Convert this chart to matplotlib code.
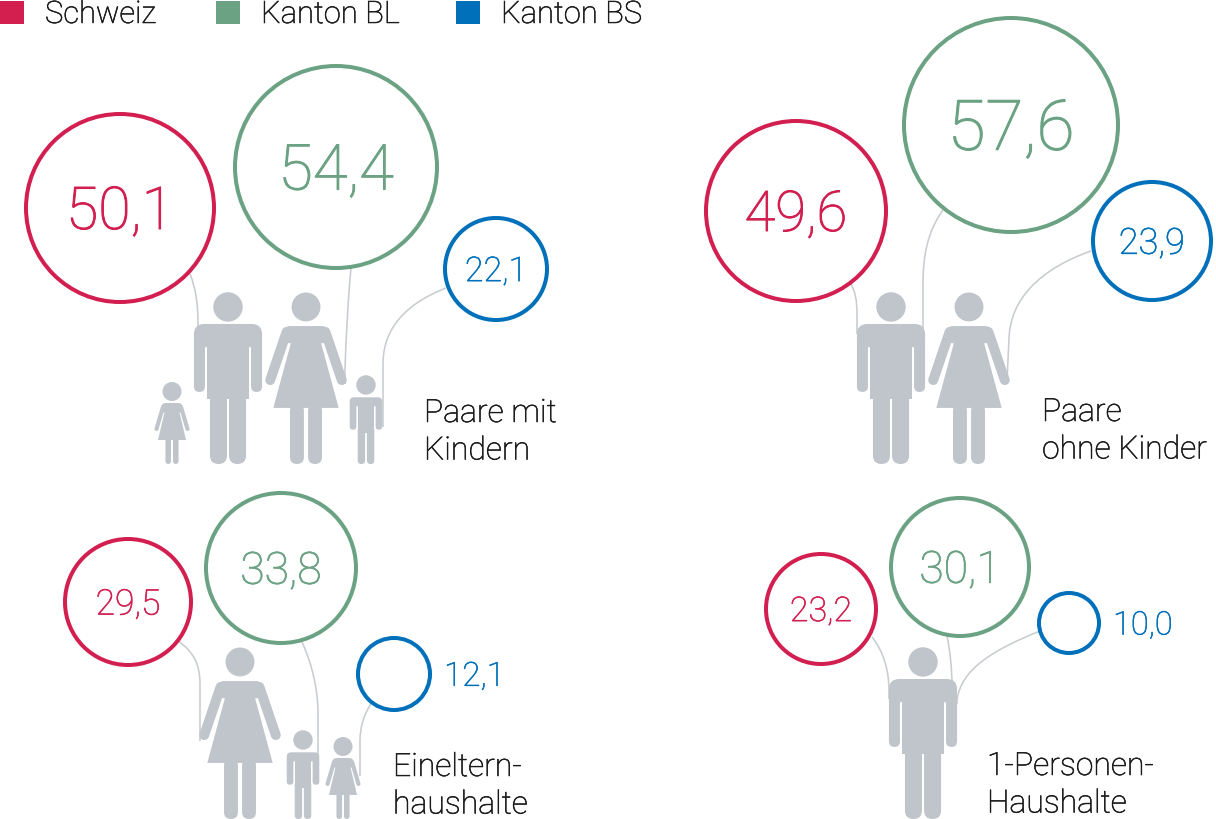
import matplotlib
matplotlib.use("Agg")
import matplotlib.pyplot as plt
import matplotlib.patheffects as pe
from matplotlib.patches import Circle, FancyBboxPatch, Polygon, Rectangle, PathPatch
from matplotlib.path import Path

plt.rcParams["font.family"] = ["Roboto", "DejaVu Sans"]
plt.rcParams["font.weight"] = "light"

# Data: share in percent per household type
regions = ["Schweiz", "Kanton BL", "Kanton BS"]
households = ["Paare mit\nKindern", "Paare\nohne Kinder",
              "Eineltern-\nhaushalte", "1-Personen-\nHaushalte"]
schweiz = [50.1, 49.6, 29.5, 23.2]
kanton_bl = [54.4, 57.6, 33.8, 30.1]
kanton_bs = [22.1, 23.9, 12.1, 10.0]

colors = ["#D21F50", "#6BA283", "#0070BA"]
grey = "#BFC5CB"
string_grey = "#C9CCD0"
ink = "#1a1a1a"

# Layout in canvas pixels (1216 x 820, y pointing down)
centers = [[(120, 209), (336, 168), (496, 270)],
           [(796, 212), (1011, 126), (1152, 242)],
           [(128, 603), (281, 569), (394, 675)],
           [(821, 610), (960, 568), (1069, 624)]]
radii = [[94, 101, 51], [90, 107, 59], [63, 75, 36], [55, 69, 30]]
sizes = [[42.5, 45.5, 24.5], [40.5, 50, 26], [25.5, 32, 24], [24.5, 32, 23.5]]
label_pos = [(424, 423), (1042, 422), (393, 777), (987, 776)]
people = [[("girl", 172, 465), ("man", 228, 465), ("woman", 306, 465), ("boy", 366, 465)],
          [("man", 891, 465), ("woman", 969, 465)],
          [("woman", 240, 820), ("boy", 303, 820), ("girl", 343, 820)],
          [("man", 923, 820)]]
# strings: start, two bezier controls, end of curve, end of straight part
strings = [
    [[(190, 275), (196, 290), (198, 305), (198, 325), (198, 340)],
     [(351, 269), (348, 300), (346, 340), (345, 370), (345, 385)],
     [(446, 289), (405, 305), (383, 330), (383, 365), (383, 428)]],
    [[(850, 283), (855, 292), (857, 300), (857, 315), (857, 335)],
     [(943, 211), (928, 232), (923, 255), (923, 285), (923, 390)],
     [(1091, 252), (1040, 270), (1010, 300), (1009, 340), (1007, 382)]],
    [[(178, 642), (193, 652), (200, 665), (200, 685), (200, 742)],
     [(302, 643), (312, 665), (318, 690), (318, 715), (318, 785)],
     [(371, 705), (364, 715), (360, 728), (360, 742), (360, 777)]],
    [[(872, 638), (883, 652), (889, 670), (889, 692), (889, 700)],
     [(947, 637), (950, 652), (952, 668), (952, 688), (952, 695)],
     [(1040, 632), (995, 650), (960, 670), (957, 702), (957, 705)]],
]

MALE = {"man": dict(H=172, head_r=0.0855, head_y=0.913, top=0.814, half=0.198, arm=0.064,
                    gap=0.012, block=0.135, arm_end=0.419, leg_top=0.45, leg_out=0.105,
                    leg_in=0.006, rs=0.06),
        "boy": dict(H=90, head_r=0.108, head_y=0.878, top=0.741, half=0.181, arm=0.074,
                    gap=0.016, block=0.1, arm_end=0.381, leg_top=0.42, leg_out=0.092,
                    leg_in=0.01, rs=0.06)}
FEMALE = {"woman": dict(H=172, head_r=0.084, head_y=0.913, top=0.802, half=0.14, block=0.1,
                        rs=0.05, dress_top=0.064, hem=0.326, hem_half=0.19,
                        arm_a=(0.113, 0.767), arm_b=(0.208, 0.488), arm_w=0.058,
                        leg_out=0.093, leg_in=0.012),
          "girl": dict(H=82, head_r=0.116, head_y=0.884, top=0.744, half=0.128, block=0.12,
                       rs=0.055, dress_top=0.07, hem=0.293, hem_half=0.171,
                       arm_a=(0.11, 0.695), arm_b=(0.189, 0.427), arm_w=0.05,
                       leg_out=0.08, leg_in=0.012)}

fig = plt.figure(figsize=(12.16, 8.2), dpi=100)
ax = fig.add_axes([0, 0, 1, 1])
ax.set_xlim(0, 1216)
ax.set_ylim(820, 0)
ax.axis("off")
PT = 0.72  # points per pixel


def bold_up(fs, color):
    # light face is a touch too thin, thicken the outline a little
    return [pe.withStroke(linewidth=0.55 * PT * fs / 23, foreground=color)]


def rbox(x0, y0, w, h, r):
    r = min(r, w / 2, h / 2)
    ax.add_patch(FancyBboxPatch((x0, y0), w, h, boxstyle="round,pad=0,rounding_size=%g" % r,
                                fc=grey, ec="none", zorder=3))


def male(cx, b, p):
    H = p["H"]
    ax.add_patch(Circle((cx, b - p["head_y"] * H), p["head_r"] * H, fc=grey, ec="none", zorder=3))
    half, arm = p["half"] * H, p["arm"] * H
    top = b - p["top"] * H
    rbox(cx - half, top, 2 * half, p["block"] * H, p["rs"] * H)
    arm_h = (p["top"] - p["arm_end"]) * H - 0.04 * H
    for x0 in (cx - half, cx + half - arm):
        rbox(x0, top + 0.04 * H, arm, arm_h, arm / 2)
    inner = half - arm - p["gap"] * H
    ax.add_patch(Rectangle((cx - inner, top + 0.04 * H), 2 * inner,
                           (p["top"] - p["arm_end"]) * H, fc=grey, ec="none", zorder=3))
    lw = (p["leg_out"] - p["leg_in"]) * H
    for x0 in (cx - p["leg_out"] * H, cx + p["leg_in"] * H):
        rbox(x0, b - p["leg_top"] * H, lw, p["leg_top"] * H, lw / 2)


def female(cx, b, p):
    H = p["H"]
    ax.add_patch(Circle((cx, b - p["head_y"] * H), p["head_r"] * H, fc=grey, ec="none", zorder=3))
    top = b - p["top"] * H
    half = p["half"] * H
    rbox(cx - half, top, 2 * half, p["block"] * H, p["rs"] * H)
    dt, hh, hem = p["dress_top"] * H, p["hem_half"] * H, b - p["hem"] * H
    ax.add_patch(Polygon([(cx - dt, top + 2), (cx + dt, top + 2), (cx + hh, hem), (cx - hh, hem)],
                         closed=True, fc=grey, ec="none", zorder=3))
    (ax_, ay), (bx, by) = p["arm_a"], p["arm_b"]
    for s in (-1, 1):
        ax.plot([cx + s * ax_ * H, cx + s * bx * H], [b - ay * H, b - by * H], color=grey,
                lw=p["arm_w"] * H * PT, solid_capstyle="round", zorder=3)
    lw = (p["leg_out"] - p["leg_in"]) * H
    for x0 in (cx - p["leg_out"] * H, cx + p["leg_in"] * H):
        rbox(x0, hem - 4, lw, b - hem + 4, lw / 2)


series = [schweiz, kanton_bl, kanton_bs]

# legend
for i, name in enumerate(regions):
    x0 = [0, 216, 456][i]
    ax.add_patch(Rectangle((x0, 2), 24, 23, fc=colors[i], ec="none", zorder=3))
    ax.text(x0 + 45, 24, name, fontsize=22.3, color=ink, va="baseline", ha="left",
            path_effects=bold_up(22.3, ink))

for k, label in enumerate(households):
    # strings behind everything
    for j in range(3):
        p0, c1, c2, p3, p4 = strings[k][j]
        path = Path([p0, c1, c2, p3, p4],
                    [Path.MOVETO, Path.CURVE4, Path.CURVE4, Path.CURVE4, Path.LINETO])
        ax.add_patch(PathPatch(path, fc="none", ec=string_grey, lw=1.6 * PT, zorder=1))
    # balloons with values
    for j in range(3):
        cx, cy = centers[k][j]
        r = radii[k][j]
        ax.add_patch(Circle((cx, cy), r, fc="white", ec=colors[j], lw=4 * PT, zorder=2))
        fs = sizes[k][j]
        txt = ("%.1f" % series[j][k]).replace(".", ",")
        base = cy + 0.5 * 0.711 * fs / PT
        if r < 40:
            ax.text(cx + r + 14, base, txt, fontsize=fs, color=colors[j], ha="left",
                    va="baseline", path_effects=bold_up(fs, colors[j]))
        else:
            ax.text(cx, base, txt, fontsize=fs, color=colors[j], ha="center",
                    va="baseline", path_effects=bold_up(fs, colors[j]))
    # pictograms
    for kind, cx, b in people[k]:
        if kind in MALE:
            male(cx, b, MALE[kind])
        else:
            female(cx, b, FEMALE[kind])
    # category label
    lx, ly = label_pos[k]
    for n, line in enumerate(label.split("\n")):
        ax.text(lx, ly + n * 37.5, line, fontsize=23, color=ink, ha="left", va="baseline",
                path_effects=bold_up(23, ink))

fig.savefig("out.png", dpi=100)
